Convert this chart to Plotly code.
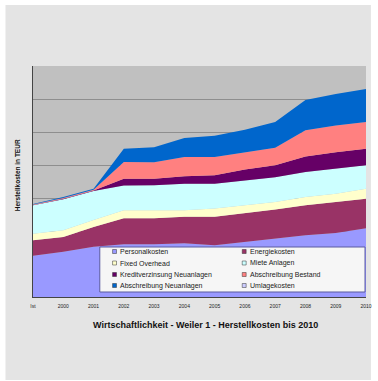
import plotly.graph_objects as go

categories = ["Ist", "2000", "2001", "2002", "2003", "2004", "2005", "2006", "2007", "2008", "2009", "2010"]

personalkosten = [1.25, 1.37, 1.52, 1.60, 1.60, 1.63, 1.57, 1.67, 1.77, 1.87, 1.94, 2.08]
energiekosten = [0.47, 0.45, 0.60, 0.79, 0.79, 0.80, 0.86, 0.86, 0.88, 0.91, 0.94, 0.90]
fixe_kosten = [0.20, 0.20, 0.21, 0.24, 0.24, 0.20, 0.25, 0.25, 0.23, 0.25, 0.25, 0.30]
miete_anlagen = [0.86, 0.94, 0.88, 0.75, 0.76, 0.80, 0.75, 0.75, 0.75, 0.76, 0.76, 0.71]
kreditzins_neu = [0.01, 0.02, 0.02, 0.20, 0.19, 0.23, 0.26, 0.33, 0.36, 0.47, 0.50, 0.50]
abschreibung_bestand = [0.01, 0.02, 0.02, 0.51, 0.50, 0.58, 0.55, 0.53, 0.53, 0.79, 0.81, 0.81]
abschreibung_neu = [0.02, 0.03, 0.03, 0.40, 0.46, 0.58, 0.65, 0.68, 0.78, 0.92, 0.95, 1.00]
umlagekosten = [0, 0, 0, 0, 0, 0, 0, 0, 0, 0, 0, 0]

series_names = ["Personalkosten", "Energiekosten", "Fixed Overhead", "Miete Anlagen",
                "Kreditverzinsung Neuanlagen", "Abschreibung Bestand",
                "Abschreibung Neuanlagen", "Umlagekosten"]
series_values = [personalkosten, energiekosten, fixe_kosten, miete_anlagen,
                 kreditzins_neu, abschreibung_bestand, abschreibung_neu, umlagekosten]
series_colors = ["#9999ff", "#993366", "#ffffcc", "#ccffff",
                 "#660066", "#ff8080", "#0066cc", "#ccccff"]

title_text = "Wirtschaftlichkeit - Weiler 1 - Herstellkosten bis 2010"
y_title = "Herstellkosten in TEUR"

W, H = 378, 381
L, R, T, B = 33, 6, 66, 84
PW, PH = W - L - R, H - T - B

def px_x(px):
    return (px - L) / PW

def px_y(py):
    return (H - B - py) / PH

fig = go.Figure()
for name, vals, col in zip(series_names, series_values, series_colors):
    fig.add_trace(go.Scatter(
        x=categories, y=vals, name=name, stackgroup="one", mode="lines",
        line=dict(width=0, color=col), fillcolor=col, showlegend=False,
        hoverinfo="x+y+name"))

shapes = [
    # outer grey panel
    dict(type="rect", xref="paper", yref="paper", layer="below",
         x0=px_x(5), x1=px_x(377), y0=px_y(380), y1=px_y(5),
         fillcolor="#e4e4e4", line=dict(width=0)),
    # plot area background
    dict(type="rect", xref="paper", yref="paper", layer="below",
         x0=0, x1=1, y0=0, y1=1,
         fillcolor="#c0c0c0", line=dict(width=0)),
    # legend box
    dict(type="rect", xref="paper", yref="paper", layer="above",
         x0=px_x(101), x1=px_x(371), y0=px_y(292), y1=px_y(247),
         fillcolor="#f6f6f6", line=dict(width=1, color="#5a5aa0")),
]
annotations = []
col_x = [116, 248]
row_y = [251.5, 263, 274.5, 285.5]
for i, (name, col) in enumerate(zip(series_names, series_colors)):
    cx = col_x[i % 2]
    ry = row_y[i // 2]
    shapes.append(dict(type="rect", xref="paper", yref="paper", layer="above",
                       x0=px_x(cx - 2), x1=px_x(cx + 2), y0=px_y(ry + 2), y1=px_y(ry - 2),
                       fillcolor=col, line=dict(width=0.5, color="#333333")))
    annotations.append(dict(xref="paper", yref="paper", x=px_x(cx + 4), y=px_y(ry),
                            xanchor="left", yanchor="middle", showarrow=False,
                            text=name, font=dict(size=7, color="#222222", family="Arial")))

annotations.append(dict(xref="paper", yref="paper", x=px_x(209), y=px_y(325),
                        xanchor="center", yanchor="middle", showarrow=False,
                        text="<b>" + title_text + "</b>",
                        font=dict(size=9, color="#111111", family="Arial")))
annotations.append(dict(xref="paper", yref="paper", x=px_x(17), y=px_y(175),
                        xanchor="center", yanchor="middle", showarrow=False, textangle=-90,
                        text="<b>" + y_title + "</b>",
                        font=dict(size=6.5, color="#111111", family="Arial")))

fig.update_layout(
    width=W, height=H,
    margin=dict(l=L, r=R, t=T, b=B),
    paper_bgcolor="white",
    plot_bgcolor="rgba(0,0,0,0)",
    showlegend=False,
    shapes=shapes,
    annotations=annotations,
    xaxis=dict(type="category", range=[0, len(categories) - 1], showgrid=False,
               showline=True, linecolor="#444444", linewidth=1,
               tickfont=dict(size=5, color="#222222", family="Arial"), ticks="",
               ticklabelstandoff=4),
    yaxis=dict(range=[0, 7], dtick=1, showgrid=True, gridcolor="#8e8e8e", gridwidth=1,
               showticklabels=False, zeroline=False, showline=True,
               linecolor="#444444", linewidth=1),
)

fig.write_html("out.html")
